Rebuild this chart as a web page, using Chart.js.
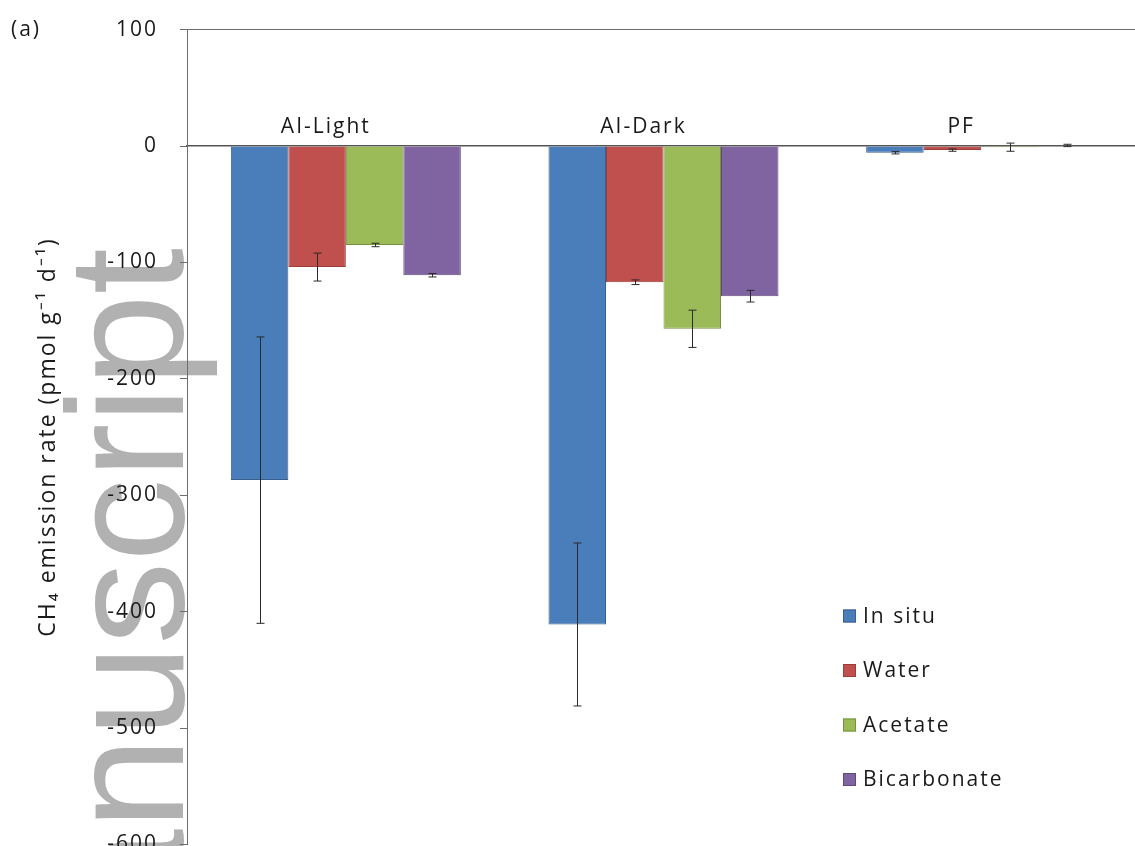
<!DOCTYPE html>
<html>
<head>
<meta charset="utf-8">
<script src="https://cdn.jsdelivr.net/npm/chart.js@4.4.1/dist/chart.umd.min.js"></script>
<style>
  html, body { margin: 0; padding: 0; overflow: hidden; background: #ffffff; width: 1135px; height: 846px; }
  #wrap { position: absolute; left: 0; top: -5px; width: 1150px; height: 890px; }
</style>
</head>
<body>
<div id="wrap"><canvas id="chart" width="1150" height="890"></canvas></div>
<script>
// Sites on the category axis
const categories = ['AI-Light', 'AI-Dark', 'PF'];

// Treatments (one bar series each) and their mean CH4 rates
const seriesNames = ['In situ', 'Water', 'Acetate', 'Bicarbonate'];
const inSitu = [-287, -411, -5.8];
const water = [-104, -117, -3.5];
const acetate = [-85, -157, -1];
const bicarbonate = [-111, -129, 0.5];

// Standard errors for each mean
const inSituErr = [123, 70, 1];
const waterErr = [12, 2, 1];
const acetateErr = [1.5, 16, 3.5];
const bicarbonateErr = [1.5, 5, 1];

// Value axis ticks
const yTicks = [100, 0, -100, -200, -300, -400, -500, -600];

const fills = ['#4a7ebb', '#c0504d', '#9bbb59', '#8064a2'];
const edges = ['#385f8e', '#9a3d3b', '#77913f', '#5f4a7c'];
const FONT = 'Open Sans';
const TEXT = '#1a1a1a';
const AXIS = '#6e6e6e';
const OFFSET = 5; // canvas sits 5px above the page top

const values = [inSitu, water, acetate, bicarbonate];
const errors = [inSituErr, waterErr, acetateErr, bicarbonateErr];

const datasets = seriesNames.map((name, i) => ({
  label: name,
  data: values[i],
  errors: errors[i],
  backgroundColor: fills[i],
  borderColor: edges[i],
  borderWidth: 1,
  categoryPercentage: 0.724,
  barPercentage: 1.0
}));

function spacing(chart) {
  if ('letterSpacing' in chart.ctx) chart.ctx.letterSpacing = '2px';
}

const textSpacing = {
  id: 'textSpacing',
  beforeLayout: spacing,
  beforeDraw: spacing
};

// Large grey lettering behind the plot
const backdrop = {
  id: 'backdrop',
  beforeDraw(chart) {
    const ctx = chart.ctx;
    ctx.save();
    if ('letterSpacing' in ctx) ctx.letterSpacing = '0px';
    ctx.translate(183, 1060 + OFFSET);
    ctx.rotate(-Math.PI / 2);
    ctx.font = '166px "Liberation Sans"';
    ctx.fillStyle = '#b1b1b1';
    ctx.textBaseline = 'alphabetic';
    ctx.textAlign = 'left';
    ctx.fillText('Manuscript', 0, 0);
    ctx.restore();
    spacing(chart);
  }
};

// Symmetric error bars centred on each bar
const errorBars = {
  id: 'errorBars',
  afterDatasetsDraw(chart) {
    const ctx = chart.ctx;
    const y = chart.scales.y;
    ctx.save();
    ctx.strokeStyle = '#2a2a2a';
    ctx.lineWidth = 1;
    chart.data.datasets.forEach((ds, i) => {
      const meta = chart.getDatasetMeta(i);
      meta.data.forEach((bar, j) => {
        const v = ds.data[j];
        const e = ds.errors[j];
        const x = Math.round(bar.x) + 0.5;
        const yHi = y.getPixelForValue(v + e);
        const yLo = y.getPixelForValue(v - e);
        ctx.beginPath();
        ctx.moveTo(x, yHi);
        ctx.lineTo(x, yLo);
        ctx.moveTo(x - 4, yHi);
        ctx.lineTo(x + 4, yHi);
        ctx.moveTo(x - 4, yLo);
        ctx.lineTo(x + 4, yLo);
        ctx.stroke();
      });
    });
    ctx.restore();
  }
};

// Panel letter and series key
const annotations = {
  id: 'annotations',
  afterDraw(chart) {
    const ctx = chart.ctx;
    ctx.save();
    spacing(chart);
    ctx.font = '21px "' + FONT + '"';
    ctx.fillStyle = TEXT;
    ctx.textBaseline = 'middle';
    ctx.textAlign = 'left';
    ctx.fillText('(a)', 11, 30 + OFFSET);

    const boxX = 843, boxSize = 13, textX = 863, top = 616 + OFFSET, step = 54.5;
    chart.data.datasets.forEach((ds, i) => {
      const cy = top + i * step;
      ctx.fillStyle = ds.backgroundColor;
      ctx.fillRect(boxX, cy - boxSize / 2, boxSize, boxSize);
      ctx.strokeStyle = ds.borderColor;
      ctx.lineWidth = 1;
      ctx.strokeRect(boxX + 0.5, cy - boxSize / 2 + 0.5, boxSize - 1, boxSize - 1);
      ctx.fillStyle = TEXT;
      ctx.fillText(ds.label, textX, cy + 1);
    });
    ctx.restore();
  }
};

new Chart(document.getElementById('chart'), {
  type: 'bar',
  data: { labels: categories, datasets },
  plugins: [textSpacing, backdrop, errorBars, annotations],
  options: {
    responsive: false,
    animation: false,
    events: [],
    layout: { padding: { top: 25, bottom: 40.5, left: 0, right: 10 } },
    plugins: {
      legend: { display: false },
      tooltip: { enabled: false }
    },
    scales: {
      x: {
        position: { y: 0 },
        grid: { display: true, drawOnChartArea: false, drawTicks: false },
        border: { color: '#555555', width: 1.5 },
        ticks: {
          padding: -32,
          labelOffset: -20,
          maxRotation: 0,
          color: TEXT,
          font: { family: FONT, size: 21 }
        }
      },
      y: {
        min: -600,
        max: 100,
        afterBuildTicks: s => { s.ticks = yTicks.map(v => ({ value: v })); },
        afterFit: s => { s.width = 187; },
        border: { color: AXIS, width: 1 },
        grid: {
          color: c => (c.tick && c.tick.value === 100) ? AXIS : 'rgba(0,0,0,0)',
          tickColor: AXIS,
          tickLength: 7
        },
        ticks: {
          padding: 22,
          color: TEXT,
          font: { family: FONT, size: 21 }
        },
        title: {
          display: true,
          text: 'CH₄ emission rate (pmol g⁻¹ d⁻¹)',
          color: TEXT,
          padding: { top: 35, bottom: 0 },
          font: { family: FONT, size: 23 }
        }
      }
    }
  }
});
</script>
</body>
</html>
